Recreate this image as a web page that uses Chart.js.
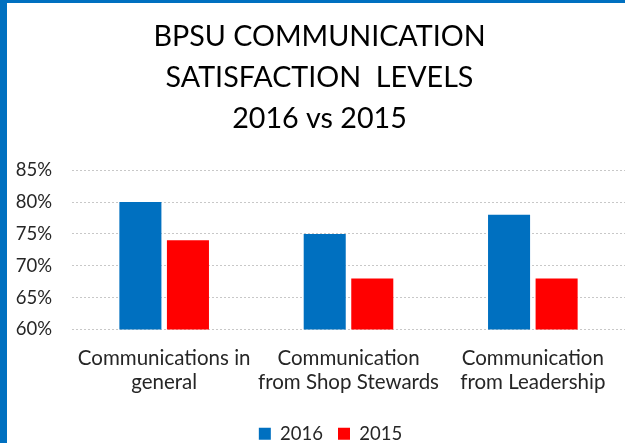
<!DOCTYPE html>
<html>
<head>
<meta charset="utf-8">
<script src="https://cdn.jsdelivr.net/npm/chart.js@4"></script>
<style>
  html, body { margin: 0; padding: 0; background: #fff; }
  .frame {
    width: 625px; height: 443px; box-sizing: border-box;
    border-left: 7px solid #0070C0; border-top: 3px solid #0070C0;
    overflow: hidden;
  }
  canvas { display: block; }
</style>
</head>
<body>
<div class="frame">
  <canvas id="chart" width="618" height="450"></canvas>
</div>
<script>
// ---- data ----
const categories = [
  ['Communications in', 'general'],
  ['Communication', 'from Shop Stewards'],
  ['Communication', 'from Leadership']
];
const seriesLabels = ['2016', '2015'];
const values2016 = [80, 75, 78];
const values2015 = [74, 68, 68];
const titleLines = ['BPSU COMMUNICATION', 'SATISFACTION  LEVELS', '2016 vs 2015'];

const FONT = 'Lato, "Open Sans", sans-serif';
const TEXT = '#262626';

// legend sits a little right of centre in the original
const legendNudge = {
  id: 'legendNudge',
  afterLayout(chart) {
    if (!chart.legend) return;
    chart.legend.left += 11;
    chart.legend.right += 11;
  }
};

new Chart(document.getElementById('chart').getContext('2d'), {
  type: 'bar',
  data: {
    labels: categories,
    datasets: [
      { label: seriesLabels[0], data: values2016, backgroundColor: '#0070C0', borderWidth: 0 },
      { label: seriesLabels[1], data: values2015, backgroundColor: '#FF0000', borderWidth: 0 }
    ]
  },
  options: {
    responsive: false,
    animation: false,
    datasets: { bar: { categoryPercentage: 0.516, barPercentage: 0.884 } },
    layout: { padding: { left: 7, right: 0, top: 0, bottom: 0 } },
    plugins: {
      title: {
        display: true,
        text: titleLines,
        color: '#000',
        font: { family: FONT, size: 28.7, weight: 'normal', lineHeight: 1.43 },
        padding: { top: 13, bottom: 31 }
      },
      legend: {
        position: 'bottom',
        labels: {
          color: TEXT,
          font: { family: FONT, size: 18.5 },
          boxWidth: 12, boxHeight: 12, padding: 15
        }
      },
      tooltip: { enabled: false }
    },
    scales: {
      x: {
        grid: { display: false, drawTicks: false },
        border: { display: false },
        ticks: { color: TEXT, font: { family: FONT, size: 20.5, lineHeight: 1.17 }, padding: 17, maxRotation: 0, autoSkip: false },
        afterFit: (s) => { s.height -= 2; }
      },
      y: {
        min: 60, max: 85,
        grid: { color: '#c8c8c8', drawTicks: false },
        border: { display: false, dash: [2, 2] },
        ticks: { stepSize: 5, color: TEXT, font: { family: FONT, size: 18.5 }, padding: 20, callback: (v) => v + '%' },
        afterFit: (s) => { s.width = 58; }
      }
    }
  },
  plugins: [legendNudge]
});
</script>
</body>
</html>
